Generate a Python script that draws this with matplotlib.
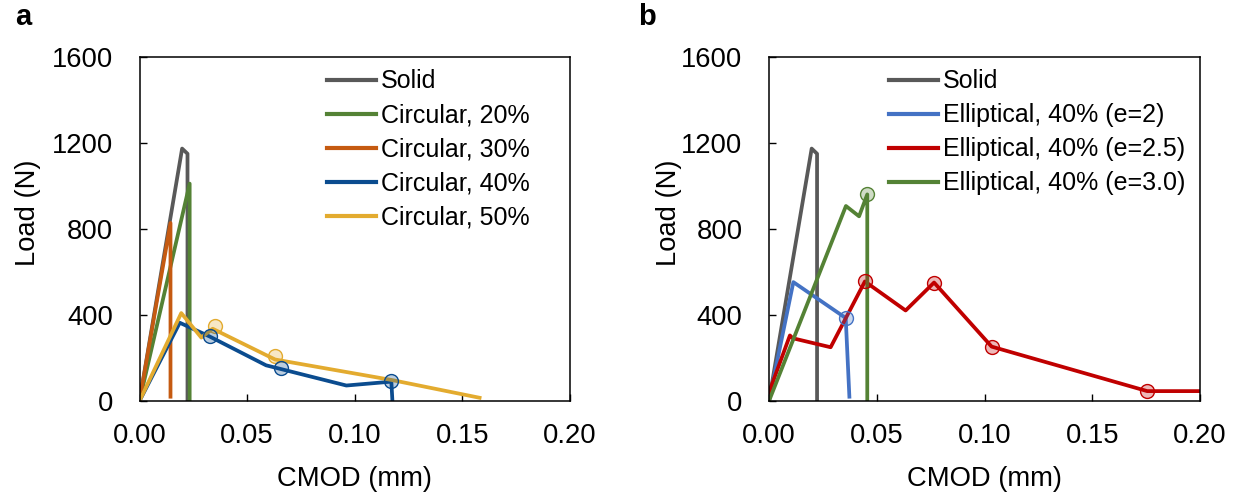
import matplotlib
matplotlib.use("Agg")
import matplotlib.pyplot as plt
from matplotlib.colors import to_rgba
from matplotlib.ticker import FormatStrFormatter

plt.rcParams['font.family'] = ['Liberation Sans', 'DejaVu Sans']

# ---- Panel a: circular voids ----
solid_x = [0.0, 0.0198, 0.0223, 0.0223]
solid_y = [0, 1174, 1150, 0]

circ20_x = [0.0, 0.0233, 0.0233]
circ20_y = [0, 1011, 0]

circ30_x = [0.0, 0.0144, 0.0144]
circ30_y = [0, 828, 20]

circ40_x = [0.0, 0.0187, 0.0326, 0.0588, 0.0961, 0.1170, 0.1175]
circ40_y = [0, 364, 300, 166, 72, 90, 0]
circ40_mx = [0.0326, 0.0656, 0.1170]
circ40_my = [303, 153, 92]

circ50_x = [0.0, 0.0194, 0.0287, 0.0340, 0.0630, 0.1170, 0.1580]
circ50_y = [0, 409, 295, 336, 193, 98, 15]
circ50_mx = [0.0349, 0.0630]
circ50_my = [347, 208]

# ---- Panel b: elliptical voids ----
ell2_x = [0.0, 0.0113, 0.0356, 0.0373]
ell2_y = [0, 553, 386, 20]
ell2_mx = [0.0356]
ell2_my = [386]

ell25_x = [0.0, 0.0097, 0.0110, 0.0286, 0.0445, 0.0634, 0.0766, 0.1033, 0.1755, 0.2000]
ell25_y = [40, 305, 292, 250, 556, 421, 551, 253, 46, 46]
ell25_mx = [0.0445, 0.0766, 0.1033, 0.1755]
ell25_my = [556, 551, 253, 46]

ell3_x = [0.0, 0.0357, 0.0418, 0.0456, 0.0456]
ell3_y = [0, 907, 859, 961, 0]
ell3_mx = [0.0456]
ell3_my = [961]

x_ticks = [0.00, 0.05, 0.10, 0.15, 0.20]
y_ticks = [0, 400, 800, 1200, 1600]

GRAY = '#595959'
GREEN = '#548235'
ORANGE = '#C55A11'
NAVY = '#0B4C8F'
GOLD = '#E3AB2F'
BLUE = '#4472C4'
RED = '#C00000'

FS = 19.7
LW = 2.7

W, H = 1237, 497
fig = plt.figure(figsize=(W / 100, H / 100), dpi=100)

def px_axes(left, right, top, bottom):
    return fig.add_axes([left / W, 1 - bottom / H, (right - left) / W, (bottom - top) / H])

ax_a = px_axes(139.5, 570, 57, 401)
ax_b = px_axes(769, 1200, 57, 401)


def markers(ax, xs, ys, color):
    ax.plot(xs, ys, ls='none', marker='o', ms=10, mfc=to_rgba(color, 0.28),
            mec=color, mew=1.0, zorder=5)


def style(ax, legend_x):
    ax.set_xlim(0, 0.2)
    ax.set_ylim(0, 1600)
    ax.set_xticks(x_ticks)
    ax.set_yticks(y_ticks)
    ax.xaxis.set_major_formatter(FormatStrFormatter('%.2f'))
    ax.tick_params(axis='both', direction='in', length=5, width=1,
                   labelsize=FS, top=False, right=False)
    ax.tick_params(axis='x', pad=16)
    ax.tick_params(axis='y', pad=19)
    for s in ax.spines.values():
        s.set_linewidth(1.1)
        s.set_color('black')
    ax.set_xlabel('CMOD (mm)', fontsize=FS, labelpad=12)
    leg = ax.legend(loc='upper left', bbox_to_anchor=(legend_x, 0.964),
                    frameon=False, fontsize=18, handlelength=1.95,
                    handletextpad=0.2, labelspacing=0.4, borderpad=0,
                    borderaxespad=0)
    for line in leg.get_lines():
        line.set_linewidth(3)


# Panel a
ax_a.plot(solid_x, solid_y, color=GRAY, lw=LW, label='Solid')
ax_a.plot(circ20_x, circ20_y, color=GREEN, lw=LW, label='Circular, 20%')
ax_a.plot(circ30_x, circ30_y, color=ORANGE, lw=LW, label='Circular, 30%')
ax_a.plot(circ40_x, circ40_y, color=NAVY, lw=LW, label='Circular, 40%')
ax_a.plot(circ50_x, circ50_y, color=GOLD, lw=LW, label='Circular, 50%')
markers(ax_a, circ50_mx, circ50_my, GOLD)
markers(ax_a, circ40_mx, circ40_my, NAVY)
style(ax_a, (327 - 139.5) / 430.5)
ax_a.set_ylabel('Load (N)', fontsize=FS)
ax_a.yaxis.set_label_coords((41 - 139.5) / 430.5, (401 - 213) / 344)

# Panel b
ax_b.plot(solid_x, solid_y, color=GRAY, lw=LW, label='Solid')
ax_b.plot(ell2_x, ell2_y, color=BLUE, lw=LW, label='Elliptical, 40% (e=2)')
ax_b.plot(ell25_x, ell25_y, color=RED, lw=LW, label='Elliptical, 40% (e=2.5)')
ax_b.plot(ell3_x, ell3_y, color=GREEN, lw=LW, label='Elliptical, 40% (e=3.0)')
markers(ax_b, ell2_mx, ell2_my, BLUE)
markers(ax_b, ell25_mx, ell25_my, RED)
markers(ax_b, ell3_mx, ell3_my, GREEN)
style(ax_b, (889 - 769) / 431)
ax_b.set_ylabel('Load (N)', fontsize=FS)
ax_b.yaxis.set_label_coords((682 - 769) / 431, (401 - 213) / 344)

fig.text(15 / W, 1 - 25 / H, 'a', fontsize=21, fontweight='bold', va='baseline')
fig.text(638 / W, 1 - 25 / H, 'b', fontsize=21, fontweight='bold', va='baseline')

fig.savefig('out.png', dpi=100)
